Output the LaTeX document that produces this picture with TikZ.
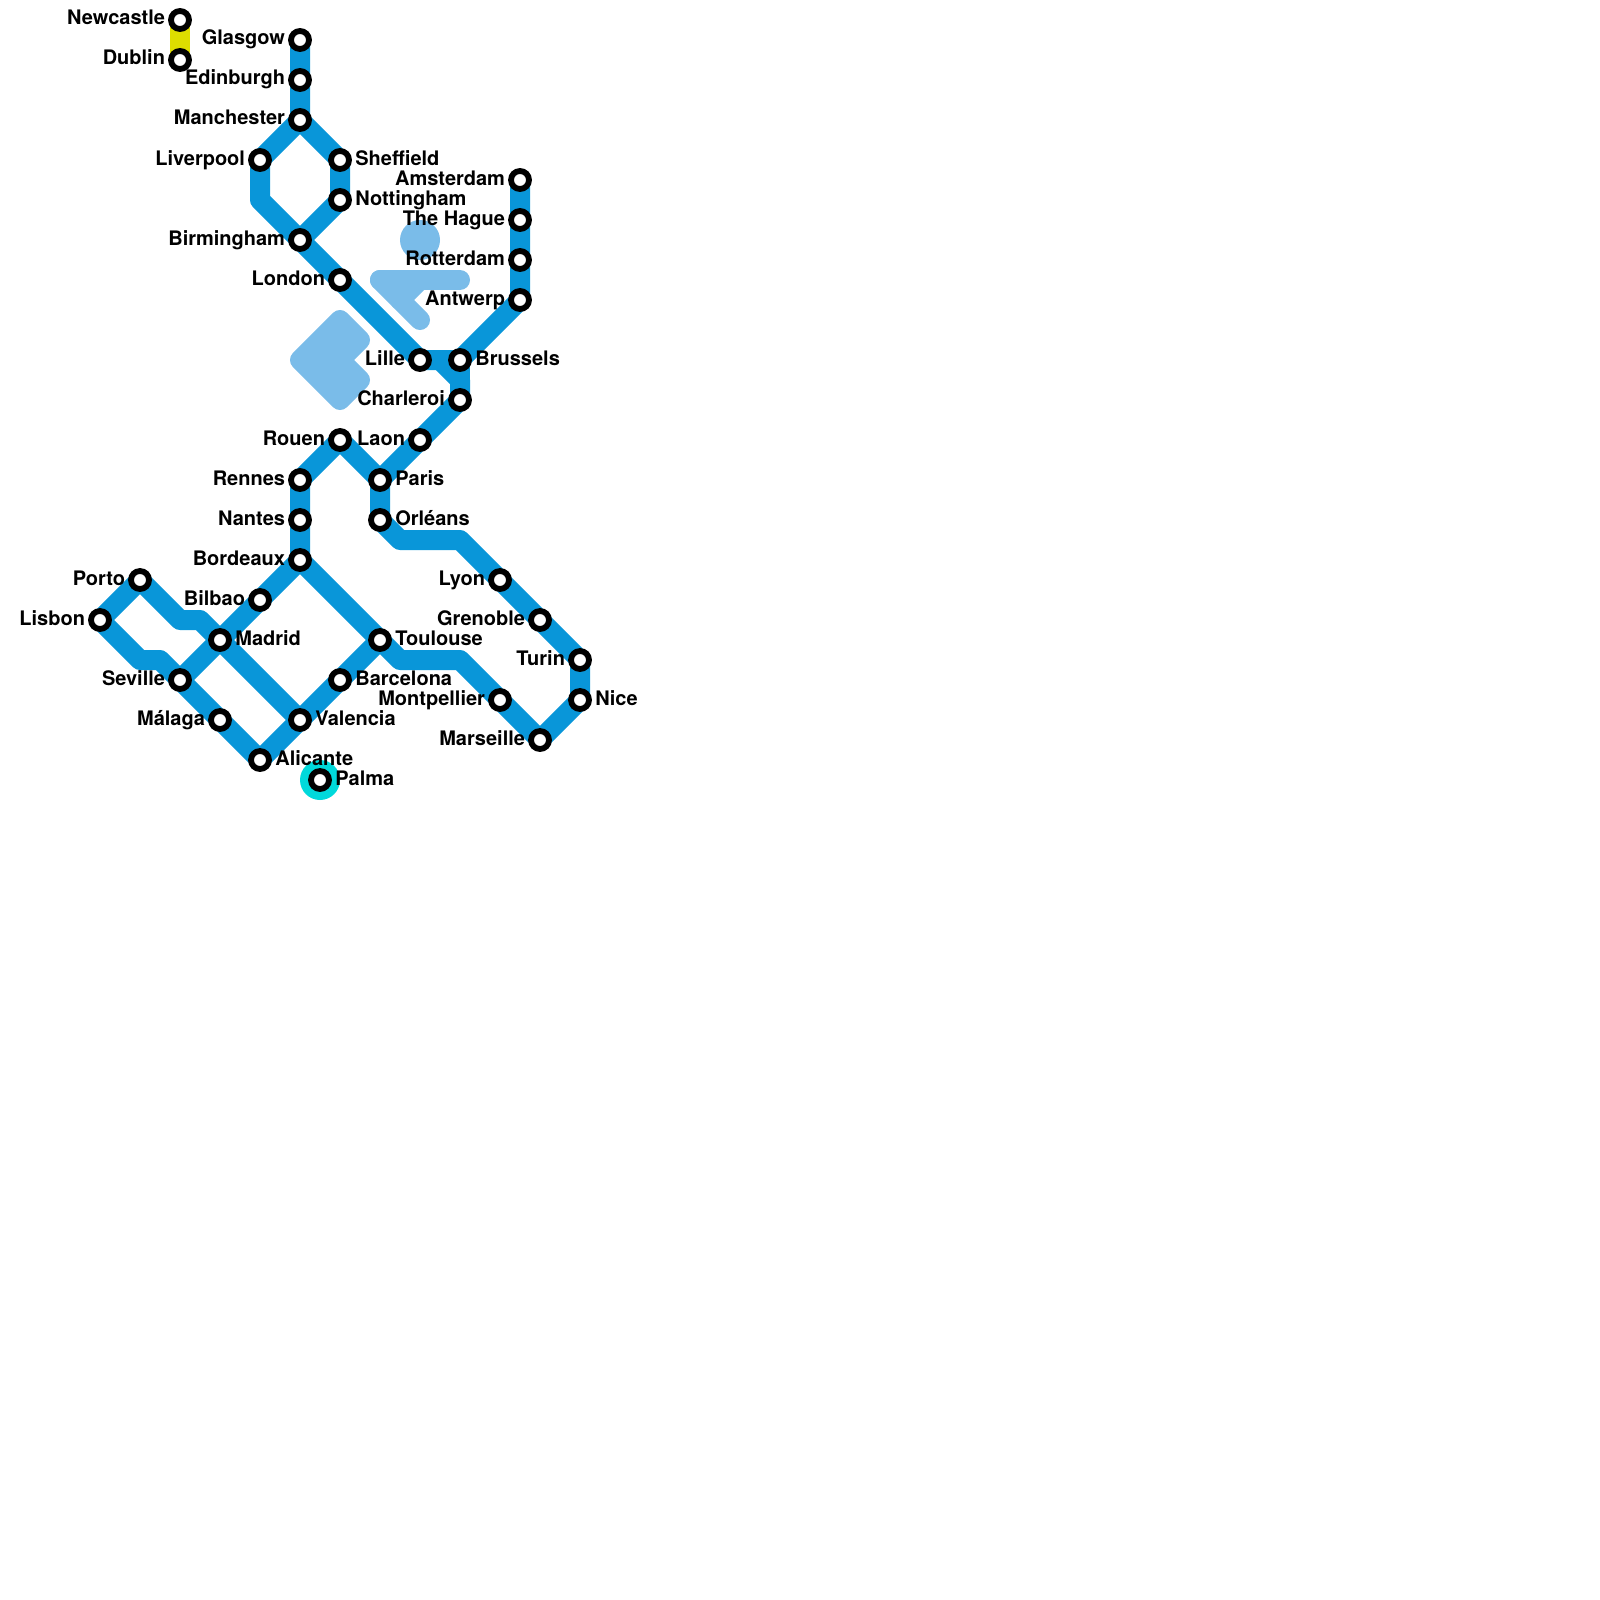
\documentclass[tikz,border=0pt]{standalone}
\usepackage{fontspec}
\setmainfont{TeX Gyre Heros}
\usetikzlibrary{backgrounds}
\definecolor{railblue}{RGB}{9,150,217}
\definecolor{seablue}{RGB}{122,188,233}
\definecolor{irishyellow}{RGB}{221,221,0}
\definecolor{islandcyan}{RGB}{0,217,219}
\tikzset{
  stn/.style={circle, draw=black, fill=white, line width=2.9pt, minimum size=9pt, inner sep=0pt},
  tagl/.style={anchor=base east, xshift=-7.3pt, yshift=-2.5pt, inner sep=0pt, font=\fontsize{10}{12}\selectfont\bfseries},
  tagr/.style={anchor=base west, xshift=7.5pt, yshift=-2.5pt, inner sep=0pt, font=\fontsize{10}{12}\selectfont\bfseries},
  railway/.style={draw=railblue, line width=10pt, line join=round, line cap=round},
  seashape/.style={draw=seablue, fill=seablue, line width=10pt, line join=round, line cap=round}
}
\begin{document}
\begin{tikzpicture}[x=0.5pt, y=-0.5pt]
  \useasboundingbox (0,0) rectangle (1600,1600);
  % Ireland and Britain
  \node[stn] (newcastle) at (180,20) {};
  \node[tagl] (newcastlet) at (newcastle) {Newcastle};
  \node[stn] (dublin) at (180,60) {};
  \node[tagl] (dublint) at (dublin) {Dublin};
  \node[stn] (glasgow) at (300,40) {};
  \node[tagl] (glasgowt) at (glasgow) {Glasgow};
  \node[stn] (edinburgh) at (300,80) {};
  \node[tagl] (edinburght) at (edinburgh) {Edinburgh};
  \node[stn] (manchester) at (300,120) {};
  \node[tagl] (manchestert) at (manchester) {Manchester};
  \node[stn] (liverpool) at (260,160) {};
  \node[tagl] (liverpoolt) at (liverpool) {Liverpool};
  \node[stn] (sheffield) at (340,160) {};
  \node[tagr] (sheffieldt) at (sheffield) {Sheffield};
  \node[stn] (nottingham) at (340,200) {};
  \node[tagr] (nottinghamt) at (nottingham) {Nottingham};
  \node[stn] (birmingham) at (300,240) {};
  \node[tagl] (birminghamt) at (birmingham) {Birmingham};
  \node[stn] (london) at (340,280) {};
  \node[tagl] (londont) at (london) {London};
  % Low countries
  \node[stn] (amsterdam) at (520,180) {};
  \node[tagl] (amsterdamt) at (amsterdam) {Amsterdam};
  \node[stn] (hague) at (520,220) {};
  \node[tagl] (haguet) at (hague) {The Hague};
  \node[stn] (rotterdam) at (520,260) {};
  \node[tagl] (rotterdamt) at (rotterdam) {Rotterdam};
  \node[stn] (antwerp) at (520,300) {};
  \node[tagl] (antwerpt) at (antwerp) {Antwerp};
  \node[stn] (lille) at (420,360) {};
  \node[tagl] (lillet) at (lille) {Lille};
  \node[stn] (brussels) at (460,360) {};
  \node[tagr] (brusselst) at (brussels) {Brussels};
  \node[stn] (charleroi) at (460,400) {};
  \node[tagl] (charleroit) at (charleroi) {Charleroi};
  % France
  \node[stn] (laon) at (420,440) {};
  \node[tagl] (laont) at (laon) {Laon};
  \node[stn] (rouen) at (340,440) {};
  \node[tagl] (rouent) at (rouen) {Rouen};
  \node[stn] (paris) at (380,480) {};
  \node[tagr] (parist) at (paris) {Paris};
  \node[stn] (orleans) at (380,520) {};
  \node[tagr] (orleanst) at (orleans) {Orléans};
  \node[stn] (rennes) at (300,480) {};
  \node[tagl] (rennest) at (rennes) {Rennes};
  \node[stn] (nantes) at (300,520) {};
  \node[tagl] (nantest) at (nantes) {Nantes};
  \node[stn] (bordeaux) at (300,560) {};
  \node[tagl] (bordeauxt) at (bordeaux) {Bordeaux};
  \node[stn] (lyon) at (500,580) {};
  \node[tagl] (lyont) at (lyon) {Lyon};
  \node[stn] (grenoble) at (540,620) {};
  \node[tagl] (grenoblet) at (grenoble) {Grenoble};
  \node[stn] (turin) at (580,660) {};
  \node[tagl] (turint) at (turin) {Turin};
  \node[stn] (nice) at (580,700) {};
  \node[tagr] (nicet) at (nice) {Nice};
  \node[stn] (marseille) at (540,740) {};
  \node[tagl] (marseillet) at (marseille) {Marseille};
  \node[stn] (montpellier) at (500,700) {};
  \node[tagl] (montpelliert) at (montpellier) {Montpellier};
  % Iberia
  \node[stn] (toulouse) at (380,640) {};
  \node[tagr] (toulouset) at (toulouse) {Toulouse};
  \node[stn] (barcelona) at (340,680) {};
  \node[tagr] (barcelonat) at (barcelona) {Barcelona};
  \node[stn] (valencia) at (300,720) {};
  \node[tagr] (valenciat) at (valencia) {Valencia};
  \node[stn] (alicante) at (260,760) {};
  \node[tagr] (alicantet) at (alicante) {Alicante};
  \node[stn] (malaga) at (220,720) {};
  \node[tagl] (malagat) at (malaga) {Málaga};
  \node[stn] (seville) at (180,680) {};
  \node[tagl] (sevillet) at (seville) {Seville};
  \node[stn] (madrid) at (220,640) {};
  \node[tagr] (madridt) at (madrid) {Madrid};
  \node[stn] (bilbao) at (260,600) {};
  \node[tagl] (bilbaot) at (bilbao) {Bilbao};
  \node[stn] (porto) at (140,580) {};
  \node[tagl] (portot) at (porto) {Porto};
  \node[stn] (lisbon) at (100,620) {};
  \node[tagl] (lisbont) at (lisbon) {Lisbon};
  \node[stn] (palma) at (320,780) {};
  \node[tagr] (palmat) at (palma) {Palma};
  % bends
  \coordinate (bendliv) at (260,200);
  \coordinate (bendlilleA) at (440,360);
  \coordinate (bendlilleB) at (460,380);
  \coordinate (bendorlA) at (400,540);
  \coordinate (bendorlB) at (460,540);
  \coordinate (bendtouA) at (400,660);
  \coordinate (bendtouB) at (460,660);
  \coordinate (bendporA) at (180,620);
  \coordinate (bendporB) at (200,620);
  \coordinate (bendlisA) at (140,660);
  \coordinate (bendlisB) at (160,660);
  % lines go behind the stations
  \begin{scope}[on background layer]
    \fill[seablue] (420,240) circle (20);
    \path[seashape] (380,280) -- (420,280) -- (400,300) -- cycle;
    \path[seashape] (380,280) -- (460,280);
    \path[seashape] (400,300) -- (420,320);
    \path[seashape] (340,320) -- (300,360) -- (340,400) -- (360,380) -- (340,360) -- (360,340) -- cycle;
    \draw[irishyellow, line width=10pt] (newcastle.center) -- (dublin.center);
    \draw[railway] (glasgow.center) -- (edinburgh.center) -- (manchester.center) -- (liverpool.center) -- (bendliv) -- (birmingham.center) -- (london.center) -- (lille.center) -- (brussels.center) -- (antwerp.center) -- (rotterdam.center) -- (hague.center) -- (amsterdam.center);
    \draw[railway] (manchester.center) -- (sheffield.center) -- (nottingham.center) -- (birmingham.center);
    \draw[railway] (brussels.center) -- (charleroi.center);
    \draw[railway] (bendlilleA) -- (bendlilleB) -- (charleroi.center) -- (laon.center) -- (paris.center) -- (rouen.center) -- (rennes.center) -- (nantes.center) -- (bordeaux.center) -- (toulouse.center) -- (bendtouA) -- (bendtouB) -- (montpellier.center) -- (marseille.center) -- (nice.center) -- (turin.center) -- (grenoble.center) -- (lyon.center) -- (bendorlB) -- (bendorlA) -- (orleans.center) -- (paris.center);
    \draw[railway] (bordeaux.center) -- (bilbao.center) -- (madrid.center) -- (seville.center) -- (bendlisB) -- (bendlisA) -- (lisbon.center) -- (porto.center) -- (bendporA) -- (bendporB) -- (madrid.center) -- (valencia.center);
    \draw[railway] (toulouse.center) -- (barcelona.center) -- (valencia.center) -- (alicante.center) -- (malaga.center) -- (seville.center);
    \fill[islandcyan] (palma.center) circle (20);
  \end{scope}
\end{tikzpicture}
\end{document}
